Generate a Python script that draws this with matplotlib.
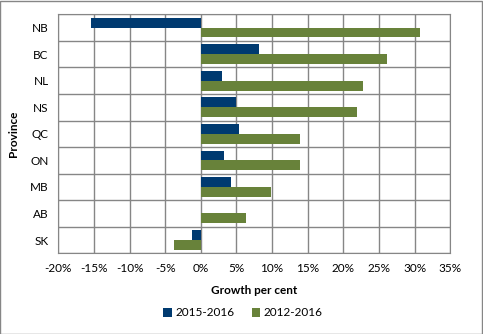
import matplotlib.pyplot as plt
import numpy as np
from matplotlib.patches import Rectangle

provinces = ["NB", "BC", "NL", "NS", "QC", "ON", "MB", "AB", "SK"]
growth_2015_2016 = [-15.4, 8.2, 3.0, 4.9, 5.4, 3.3, 4.3, 0.0, -1.2]
growth_2012_2016 = [30.8, 26.1, 22.8, 21.9, 13.9, 13.9, 9.8, 6.4, -3.7]
x_ticks = [-20, -15, -10, -5, 0, 5, 10, 15, 20, 25, 30, 35]

blue = "#003A70"
green = "#68823A"
grid_col = "#868686"

plt.rcParams['font.family'] = ['Lato', 'DejaVu Sans']

fig = plt.figure(figsize=(4.83, 3.34), dpi=100)
ax = fig.add_axes([58.3 / 483, 1 - 253.3 / 334, (450.3 - 58.3) / 483, (253.3 - 14.3) / 334])

y = np.arange(len(provinces))
h = 0.37
ax.barh(y - h / 2, growth_2015_2016, height=h, color=blue, label="2015-2016", zorder=3)
ax.barh(y + h / 2, growth_2012_2016, height=h, color=green, label="2012-2016", zorder=3)

ax.set_xlim(-20, 35)
ax.set_ylim(len(provinces) - 0.5, -0.5)
ax.set_xticks(x_ticks)
ax.set_xticklabels([f"{v}%" for v in x_ticks], fontsize=8.5)
ax.set_yticks(y)
ax.set_yticklabels(provinces, fontsize=8.5)
ax.tick_params(length=0, pad=7)

# gridlines: vertical at each tick, horizontal between categories
for v in x_ticks:
    ax.axvline(v, color=grid_col, lw=1, zorder=1)
for b in np.arange(-0.5, len(provinces), 1):
    ax.axhline(b, color=grid_col, lw=1, zorder=1)
for s in ax.spines.values():
    s.set_color(grid_col)

ax.set_xlabel("Growth per cent", fontsize=8.5, fontweight="bold", labelpad=8)
ax.set_ylabel("Province", fontsize=8.5, fontweight="bold", labelpad=8)

fig.legend(loc="center", bbox_to_anchor=(243 / 483, 1 - 313 / 334), ncol=2, frameon=False,
           fontsize=8.5, handlelength=0.7, handleheight=0.7, handletextpad=0.3, columnspacing=1.5)

fig.patches.append(Rectangle((0.001, 0.001), 0.996, 0.997, transform=fig.transFigure,
                             fill=False, edgecolor=grid_col, lw=1))

fig.savefig("out.png", dpi=100)
